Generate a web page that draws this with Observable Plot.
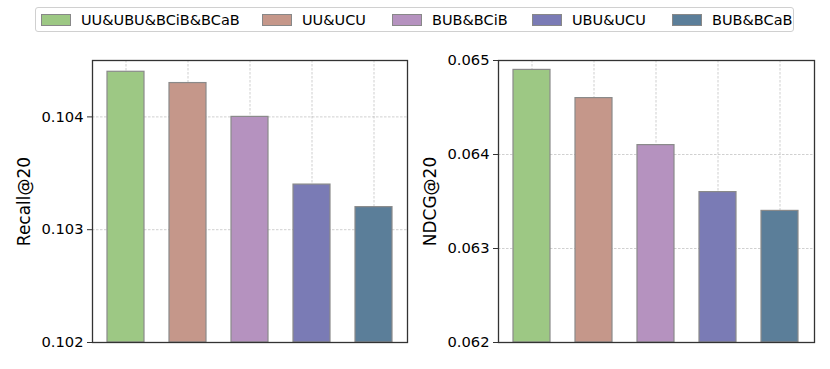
<!DOCTYPE html>
<html>
<head>
<meta charset="utf-8">
<script src="https://cdn.jsdelivr.net/npm/d3@7"></script>
<script src="https://cdn.jsdelivr.net/npm/@observablehq/plot@0.6"></script>
<style>
  html, body { margin: 0; padding: 0; background: #fff; }
  body { font-family: "DejaVu Sans", sans-serif; }
  #wrap { position: relative; width: 830px; height: 369px; overflow: hidden; }
  .panel { position: absolute; top: 0; }
  #legend { position: absolute; left: 35px; top: 7px; width: 759px; height: 25px;
    border: 1px solid #d0d0d0; border-radius: 3px; background: rgba(255,255,255,0.9);
    box-sizing: border-box; z-index: 2; }
  .item { position: absolute; top: 0; height: 24px; display: flex; align-items: center;
    font-size: 14.5px; color: #000; white-space: nowrap; }
  .swatch { width: 28px; height: 10px; border: 1px solid #888; margin-right: 10px; }
</style>
</head>
<body>
<div id="wrap">
  <div id="left" class="panel" style="left:0px"></div>
  <div id="right" class="panel" style="left:415px"></div>
  <div id="legend"></div>
</div>
<script>
// ---- data ----
const methods = ["UU&UBU&BCiB&BCaB", "UU&UCU", "BUB&BCiB", "UBU&UCU", "BUB&BCaB"];
const colors = ["#9dc884", "#c5978a", "#b592bf", "#7a7bb5", "#5b7e99"];
const recall = [0.1044, 0.1043, 0.1040, 0.1034, 0.1032];
const ndcg = [0.0649, 0.0646, 0.0641, 0.0636, 0.0634];
const recallTicks = [0.102, 0.103, 0.104];
const ndcgTicks = [0.062, 0.063, 0.064, 0.065];
const recallDomain = [0.102, 0.1045];
const ndcgDomain = [0.062, 0.065];
const legendX = [5, 226, 356, 496, 636]; // legend item left offsets within legend box

function panel(values, domain, ticks, label, mLeft, mRight) {
  const data = methods.map((m, i) => ({method: m, value: values[i], base: domain[0]}));
  return Plot.plot({
    width: 415,
    height: 369,
    marginLeft: mLeft,
    marginRight: mRight,
    marginTop: 60,
    marginBottom: 27,
    style: {fontFamily: "DejaVu Sans", fontSize: "14.7px", background: "transparent", color: "#000"},
    x: {domain: methods, paddingInner: 0.4, paddingOuter: 0.23, axis: null},
    y: {domain: domain, axis: null},
    color: {domain: methods, range: colors},
    marks: [
      Plot.gridX(methods, {stroke: "#b0b0b0", strokeOpacity: 1, strokeWidth: 0.6, strokeDasharray: "2.5,1.5"}),
      Plot.gridY(ticks, {stroke: "#b0b0b0", strokeOpacity: 1, strokeWidth: 0.6, strokeDasharray: "2.5,1.5"}),
      Plot.barY(data, {x: "method", y1: "base", y2: "value", fill: "method", stroke: "#8a8a8a", strokeWidth: 1.2}),
      Plot.axisY({ticks: ticks, tickFormat: d3.format(".3f"), tickSize: 5, tickPadding: 4, stroke: "#333",
        fontSize: "14.7px", label: label, labelAnchor: "center", labelArrow: false, labelOffset: 75}),
      Plot.frame({stroke: "#333", strokeWidth: 1.3})
    ]
  });
}

const left = panel(recall, recallDomain, recallTicks, "Recall@20", 92, 8);
const right = panel(ndcg, ndcgDomain, ndcgTicks, "NDCG@20", 83, 16);
document.getElementById("left").appendChild(left);
document.getElementById("right").appendChild(right);

// enlarge axis labels
for (const svg of [left, right]) {
  svg.querySelectorAll("g[aria-label='y-axis label'] text").forEach(t => t.setAttribute("font-size", "17px"));
}

const legend = document.getElementById("legend");
methods.forEach((m, i) => {
  const it = document.createElement("div");
  it.className = "item";
  it.style.left = legendX[i] + "px";
  const sw = document.createElement("div");
  sw.className = "swatch";
  sw.style.background = colors[i];
  const tx = document.createElement("span");
  tx.textContent = m;
  it.appendChild(sw);
  it.appendChild(tx);
  legend.appendChild(it);
});
</script>
</body>
</html>
